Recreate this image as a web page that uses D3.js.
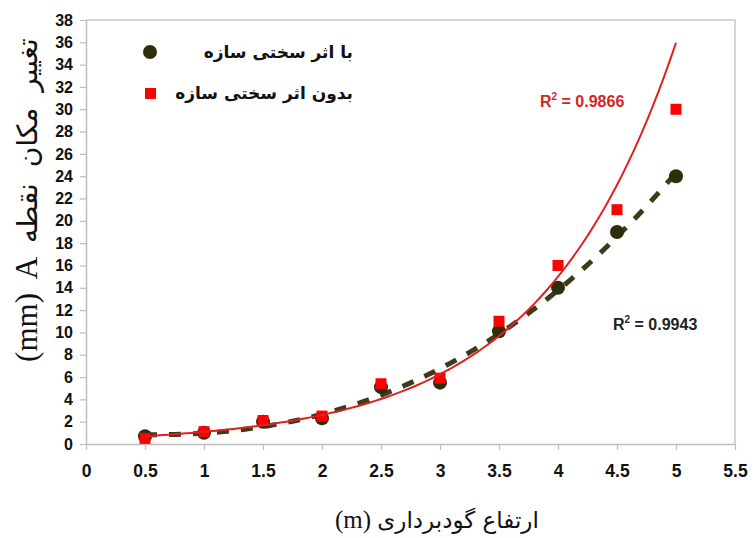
<!DOCTYPE html>
<html><head><meta charset="utf-8">
<script src="https://cdn.jsdelivr.net/npm/d3@7"></script>
<style>
html,body{margin:0;padding:0;background:#fff;}
svg{display:block;}
</style></head>
<body>
<svg id="chart" width="755" height="538"></svg>
<script>
const xValues = [0.5, 1, 1.5, 2, 2.5, 3, 3.5, 4, 4.5, 5];
const withStiffness = [0.7, 1.0, 2.0, 2.3, 5.1, 5.5, 10.1, 14.0, 19.0, 24.0];
const withoutStiffness = [0.5, 1.1, 2.1, 2.5, 5.4, 5.9, 11.0, 16.0, 21.0, 30.0];
const xTicks = [0, 0.5, 1, 1.5, 2, 2.5, 3, 3.5, 4, 4.5, 5, 5.5];
const yTicks = d3.range(0, 39, 2);
const seriesNames = ["با اثر سختی سازه", "بدون اثر سختی سازه"];
const r2Labels = ["0.9943", "0.9866"];
const xTitleArabic = "ارتفاع گودبرداری";
const xTitleLatin = "(m)";
const yTitleArabic = "تغییر مکان نقطه";
const yTitleLatin = "(mm)  A";

const svg = d3.select("#chart");
const m = {left: 86, right: 20, top: 20, bottom: 94};
const W = 755, H = 538;
const x = d3.scaleLinear().domain([0, 5.5]).range([m.left, W - m.right]);
const y = d3.scaleLinear().domain([0, 38]).range([H - m.bottom, m.top]);

// frame (top/right)
svg.append("path")
  .attr("d", `M${x(0)},${y(38)}H${x(5.5)}V${y(0)}`)
  .attr("fill", "none").attr("stroke", "#c8c8c8").attr("stroke-width", 1.5);

const xAxis = svg.append("g").attr("transform", `translate(0,${y(0)})`)
  .call(d3.axisBottom(x).tickValues(xTicks).tickSize(6).tickSizeOuter(0).tickFormat(d3.format("")));
const yAxis = svg.append("g").attr("transform", `translate(${x(0)},0)`)
  .call(d3.axisLeft(y).tickValues(yTicks).tickSize(6).tickSizeOuter(0));
[xAxis, yAxis].forEach(g => {
  g.select(".domain").attr("stroke", "#bdbdbd").attr("stroke-width", 1.5);
  g.selectAll(".tick line").attr("stroke", "#bdbdbd").attr("stroke-width", 1.2);
  g.selectAll("text").attr("fill", "#111").attr("font-family", "Liberation Sans, Arial, sans-serif").attr("font-weight", "bold");
});
xAxis.selectAll("text").attr("font-size", 17.5).attr("dy", "1.35em");
yAxis.selectAll("text").attr("font-size", 16).attr("x", -13);

// regressions
function polyFit(xs, ys, deg) {
  const n = deg + 1;
  const A = Array.from({length: n}, () => new Array(n + 1).fill(0));
  xs.forEach((xv, i) => {
    for (let r = 0; r < n; r++) {
      for (let c = 0; c < n; c++) A[r][c] += Math.pow(xv, r + c);
      A[r][n] += ys[i] * Math.pow(xv, r);
    }
  });
  for (let i = 0; i < n; i++) {
    let p = i;
    for (let k = i + 1; k < n; k++) if (Math.abs(A[k][i]) > Math.abs(A[p][i])) p = k;
    [A[i], A[p]] = [A[p], A[i]];
    for (let k = i + 1; k < n; k++) {
      const f = A[k][i] / A[i][i];
      for (let c = i; c <= n; c++) A[k][c] -= f * A[i][c];
    }
  }
  const coef = new Array(n).fill(0);
  for (let i = n - 1; i >= 0; i--) {
    let s = A[i][n];
    for (let c = i + 1; c < n; c++) s -= A[i][c] * coef[c];
    coef[i] = s / A[i][i];
  }
  return xv => coef.reduce((s, c, i) => s + c * Math.pow(xv, i), 0);
}
function expFit(xs, ys) {
  const f = polyFit(xs, ys.map(Math.log), 1);
  return xv => Math.exp(f(xv));
}
const fitDark = polyFit(xValues, withStiffness, 3);
const fitRed = expFit(xValues, withoutStiffness);
const sampleX = d3.range(0.5, 5.0001, 0.05);
const line = d3.line().x(d => x(d[0])).y(d => y(d[1]));

svg.append("path").datum(sampleX.map(v => [v, fitDark(v)]))
  .attr("d", line).attr("fill", "none").attr("stroke", "#3b3b1e")
  .attr("stroke-width", 5).attr("stroke-dasharray", "12,12");

// points
svg.append("g").selectAll("circle").data(xValues).join("circle")
  .attr("cx", (d) => x(d)).attr("cy", (d, i) => y(withStiffness[i]))
  .attr("r", 7).attr("fill", "#2e2e0c");
svg.append("g").selectAll("rect").data(xValues).join("rect")
  .attr("x", d => x(d) - 5.5).attr("y", (d, i) => y(withoutStiffness[i]) - 5.5)
  .attr("width", 11).attr("height", 11).attr("fill", "#ff0000");

svg.append("path").datum(sampleX.map(v => [v, fitRed(v)]))
  .attr("d", line).attr("fill", "none").attr("stroke", "#e02020")
  .attr("stroke-width", 2);

// R2 labels
function r2(g, xp, yp, val, color) {
  const t = g.append("text").attr("x", xp).attr("y", yp)
    .attr("font-family", "Liberation Sans, Arial, sans-serif").attr("font-weight", "bold")
    .attr("font-size", 16).attr("fill", color);
  t.append("tspan").text("R");
  t.append("tspan").attr("dy", -7).attr("font-size", 10).text("2");
  t.append("tspan").attr("dy", 7).text(" = " + val);
}
r2(svg, 540, 107, r2Labels[1], "#d42424");
r2(svg, 613, 330, r2Labels[0], "#222");

// legend
svg.append("circle").attr("cx", 150).attr("cy", 52).attr("r", 7).attr("fill", "#2e2e0c");
svg.append("rect").attr("x", 145).attr("y", 88).attr("width", 11).attr("height", 11).attr("fill", "#ff0000");
svg.append("text").attr("x", 353).attr("y", 58).attr("direction", "rtl").attr("text-anchor", "start")
  .attr("font-family", "DejaVu Sans, sans-serif").attr("font-weight", "bold").attr("font-size", 17)
  .attr("fill", "#111").text(seriesNames[0]);
svg.append("text").attr("x", 353).attr("y", 99).attr("direction", "rtl").attr("text-anchor", "start")
  .attr("font-family", "DejaVu Sans, sans-serif").attr("font-weight", "bold").attr("font-size", 17)
  .attr("fill", "#111").text(seriesNames[1]);

// axis titles
const xt = svg.append("text").attr("x", 335).attr("y", 528).attr("text-anchor", "start")
  .attr("direction", "ltr").attr("fill", "#111");
xt.append("tspan").attr("font-family", "Liberation Serif, Times New Roman, serif").attr("font-size", 25)
  .text(xTitleLatin + " ");
xt.append("tspan").attr("font-family", "DejaVu Sans, sans-serif").attr("font-size", 23)
  .text(xTitleArabic);

const yt = svg.append("text").attr("transform", "translate(37,200) rotate(-90)").attr("text-anchor", "middle")
  .attr("direction", "ltr").attr("fill", "#111");
yt.append("tspan").attr("font-family", "Liberation Serif, Times New Roman, serif").attr("font-size", 31)
  .attr("style", "white-space:pre").text(yTitleLatin + "  ");
yt.append("tspan").attr("font-family", "DejaVu Sans, sans-serif").attr("font-size", 28)
  .attr("style", "word-spacing:7px").text(yTitleArabic);
</script>
</body></html>
